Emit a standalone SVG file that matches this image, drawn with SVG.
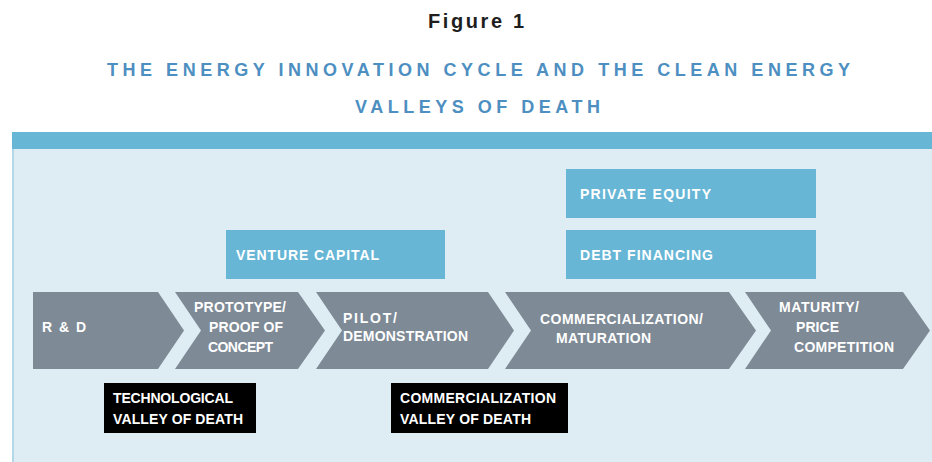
<svg xmlns="http://www.w3.org/2000/svg" width="932" height="462" viewBox="0 0 932 462">
<style>
.t{font-family:"Liberation Sans",Arial,sans-serif;font-weight:bold;}
.w{fill:#ffffff;font-size:14px;}
.chev{fill:#7e8a96;}
.fund{fill:#67b6d6;}
.vod{fill:#000000;}
</style>
<rect width="932" height="462" fill="#ffffff"/>
<g id="title">
<text class="t" x="476" y="28" font-size="20" fill="#1e1e1e" text-anchor="middle" textLength="96" lengthAdjust="spacing">Figure 1</text>
<text class="t" x="107" y="76" font-size="18" fill="#4d8fc1" textLength="743" lengthAdjust="spacing">THE ENERGY INNOVATION CYCLE AND THE CLEAN ENERGY</text>
<text class="t" x="355" y="113" font-size="18" fill="#4d8fc1" textLength="245" lengthAdjust="spacing">VALLEYS OF DEATH</text>
</g>
<g id="panel">
<rect x="12" y="132" width="920" height="330" fill="#deedf4"/>
<rect x="12" y="132" width="2" height="330" fill="#b3d9e9"/>
<rect x="12" y="132" width="920" height="17" fill="#67b6d6"/>
</g>
<g id="private-equity">
<rect class="fund" x="566" y="169" width="250" height="49"/>
<text class="t w" x="580" y="199" textLength="131" lengthAdjust="spacing">PRIVATE EQUITY</text>
</g>
<g id="venture-capital">
<rect class="fund" x="226" y="230" width="219" height="49"/>
<text class="t w" x="236" y="260" textLength="143" lengthAdjust="spacing">VENTURE CAPITAL</text>
</g>
<g id="debt-financing">
<rect class="fund" x="566" y="230" width="250" height="49"/>
<text class="t w" x="580" y="260" textLength="133" lengthAdjust="spacing">DEBT FINANCING</text>
</g>
<g id="rd">
<path class="chev" d="M33,292 H158 L184,330.5 L158,369 H33 Z"/>
<text class="t w" x="42" y="332" textLength="44" lengthAdjust="spacing">R &amp; D</text>
</g>
<g id="prototype">
<path class="chev" d="M175,292 H298 L325,330.5 L298,369 H175 L201,330.5 Z"/>
<text class="t w" x="194" y="312" textLength="92" lengthAdjust="spacing">PROTOTYPE/</text>
<text class="t w" x="209" y="332" textLength="74" lengthAdjust="spacing">PROOF OF</text>
<text class="t w" x="208" y="352" textLength="65" lengthAdjust="spacing">CONCEPT</text>
</g>
<g id="pilot">
<path class="chev" d="M316,292 H488 L514,330.5 L488,369 H316 L342,330.5 Z"/>
<text class="t w" x="343" y="323" textLength="54" lengthAdjust="spacing">PILOT/</text>
<text class="t w" x="343" y="341" textLength="125" lengthAdjust="spacing">DEMONSTRATION</text>
</g>
<g id="commercialization">
<path class="chev" d="M505,292 H729 L756,330.5 L729,369 H505 L531,330.5 Z"/>
<text class="t w" x="540" y="324" textLength="163" lengthAdjust="spacing">COMMERCIALIZATION/</text>
<text class="t w" x="556" y="343" textLength="95" lengthAdjust="spacing">MATURATION</text>
</g>
<g id="maturity">
<path class="chev" d="M745,292 H903 L930,330.5 L903,369 H745 L771,330.5 Z"/>
<text class="t w" x="779" y="312" textLength="80" lengthAdjust="spacing">MATURITY/</text>
<text class="t w" x="796" y="332" textLength="43" lengthAdjust="spacing">PRICE</text>
<text class="t w" x="794" y="352" textLength="100" lengthAdjust="spacing">COMPETITION</text>
</g>
<g id="technological-valley">
<rect class="vod" x="104" y="383" width="152" height="50"/>
<text class="t w" x="113" y="403" textLength="120" lengthAdjust="spacing">TECHNOLOGICAL</text>
<text class="t w" x="113" y="424" textLength="130" lengthAdjust="spacing">VALLEY OF DEATH</text>
</g>
<g id="commercialization-valley">
<rect class="vod" x="391" y="383" width="177" height="50"/>
<text class="t w" x="400" y="403" textLength="156" lengthAdjust="spacing">COMMERCIALIZATION</text>
<text class="t w" x="400" y="424" textLength="131" lengthAdjust="spacing">VALLEY OF DEATH</text>
</g>
</svg>
